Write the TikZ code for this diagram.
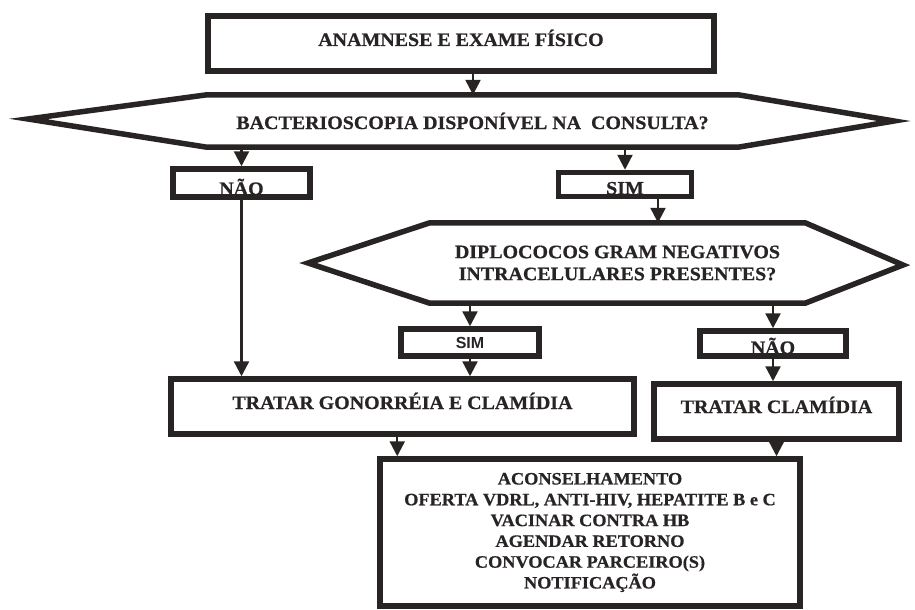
\documentclass[tikz,border=0pt]{standalone}
\usepackage{fontspec}
\newfontfamily\flowfont[UprightFont={* Bold},FakeStretch=1.05,FakeBold=0.7]{Liberation Serif}
\newfontfamily\simfont[UprightFont={* Bold}]{Liberation Sans}
\usetikzlibrary{arrows.meta,positioning}
\definecolor{ink}{RGB}{40,36,36}

\begin{document}
\begin{tikzpicture}[x=1pt,y=-1pt]

\tikzset{box/.style={draw=ink,line width=5.5pt,inner sep=0pt,font=\flowfont\fontsize{19}{21}\selectfont,text=ink,align=center},
qtext/.style={inner sep=0pt,font=\flowfont\fontsize{19}{22}\selectfont,text=ink,align=center},
hexline/.style={draw=ink,line width=5.5pt,line join=miter},
flow/.style={draw=ink,line width=2.4pt,-{Triangle[width=15pt,length=15pt]}}}

\useasboundingbox (0,0) rectangle (915,610);

% Start
\node[box,minimum width=506pt,text height=30pt,text depth=25pt] (exame) at (461,43.5) {ANAMNESE E EXAME FÍSICO};

% First question
\node[qtext,minimum width=531pt,minimum height=52pt] (bact) at (472.5,121) {BACTERIOSCOPIA DISPONÍVEL NA\ \ CONSULTA?};
\coordinate (bactW) at (28,119); \coordinate (bactE) at (894,121);
\draw[hexline] (bact.north west) -- (bact.north east) -- (bactE) -- (bact.south east) -- (bact.south west) -- (bactW) -- cycle;

% Answers to the first question
\node[box,minimum width=137pt,text height=26pt,text depth=2pt] (nao1) at (241.5,183) {NÃO};
\node[box,minimum width=133pt,text height=22pt,text depth=2pt] (sim1) at (625,184.5) {SIM};

% Second question
\node[qtext,minimum width=375pt,minimum height=80pt] (dipl) at (617.5,263) {DIPLOCOCOS GRAM NEGATIVOS\\INTRACELULARES PRESENTES?};
\coordinate (diplW) at (308,263); \coordinate (diplE) at (903,265);
\draw[hexline] (dipl.north west) -- (dipl.north east) -- (diplE) -- (dipl.south east) -- (dipl.south west) -- (diplW) -- cycle;

% Answers to the second question
\node[box,font=\simfont\fontsize{16}{18}\selectfont,minimum width=138pt,minimum height=27pt] (sim2) at (470,342.5) {SIM};
\node[box,minimum width=146pt,text height=23pt,text depth=2pt] (nao2) at (773,343.5) {NÃO};

% Treatments
\node[box,minimum width=463pt,text height=30pt,text depth=25pt] (gono) at (402.5,406.5) {TRATAR GONORRÉIA E CLAMÍDIA};
\node[box,minimum width=245pt,text height=29pt,text depth=26pt] (trat) at (776.5,411.5) {TRATAR CLAMÍDIA};

% Follow-up
\node[box,font=\flowfont\fontsize{17.4}{20.8}\selectfont,minimum width=420pt,minimum height=147pt] (cons) at (590,532.5) {ACONSELHAMENTO\\OFERTA VDRL, ANTI-HIV, HEPATITE B e C\\VACINAR CONTRA HB\\AGENDAR RETORNO\\CONVOCAR PARCEIRO(S)\\NOTIFICAÇÃO};

% Edges
\draw[flow] ([xshift=12pt]exame.south) -- ([xshift=12pt]exame.south |- bact.north);
\draw[flow] (bact.south -| nao1) -- (nao1); \draw[flow] (bact.south -| sim1) -- (sim1);
\draw[flow] ([xshift=33pt]sim1.south) -- ([xshift=33pt]sim1.south |- dipl.north);
\draw[flow] (dipl.south -| sim2) -- (sim2); \draw[flow] (dipl.south -| nao2) -- (nao2);
\draw[flow] (nao1) -- (nao1 |- gono.north); \draw[flow] (sim2) -- (sim2 |- gono.north); \draw[flow] (nao2) -- (nao2 |- trat.north);
\draw[flow] ([xshift=20pt]cons.north west |- gono.south) -- ([xshift=20pt]cons.north west);
\draw[flow] (trat) -- (trat |- cons.north);

\end{tikzpicture}
\end{document}
